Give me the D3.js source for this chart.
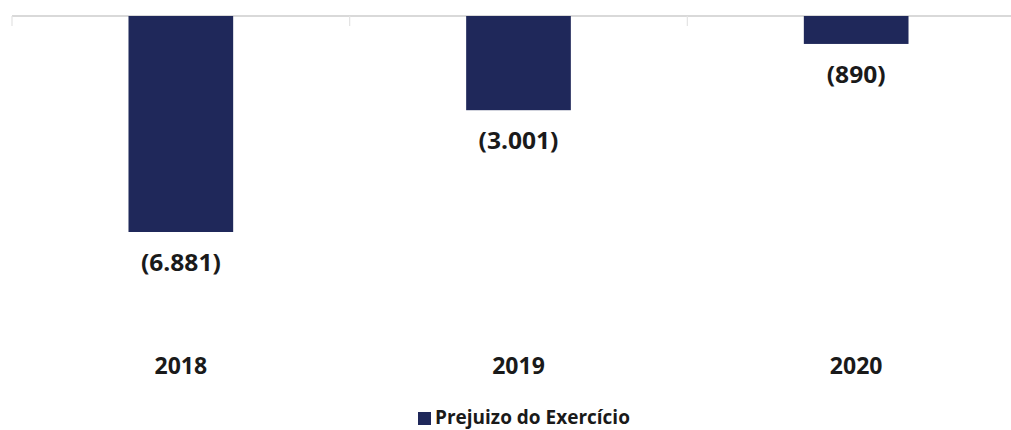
<!DOCTYPE html>
<html><head><meta charset="utf-8">
<script src="https://cdn.jsdelivr.net/npm/d3@7"></script>
<style>html,body{margin:0;padding:0;background:#fff;}svg{display:block;}</style>
</head><body>
<svg id="c" width="1011" height="430"></svg>
<script>
const categories = ["2018", "2019", "2020"];
const values = [-6881, -3001, -890];
const valueLabels = ["(6.881)", "(3.001)", "(890)"];
const seriesName = "Prejuizo do Exercício";

const svg = d3.select("#c");
const color = "#1f285a";
const font = "'Open Sans', sans-serif";

const x = d3.scaleBand().domain(categories).range([12, 1025]).paddingInner(0.69).paddingOuter(0.345);
const y = d3.scaleLinear().domain([-6881, 0]).range([232, 16]);

// axis line at zero
svg.append("line").attr("x1", 12).attr("x2", 1011).attr("y1", y(0)).attr("y2", y(0))
  .attr("stroke", "#d9d9d9").attr("stroke-width", 2);
const step = x.step();
const boundaries = [0,1,2,3].map(i => 12 + i*step);
svg.selectAll(".tick").data(boundaries).enter().append("line")
  .attr("x1", d=>d).attr("x2", d=>d).attr("y1", y(0)).attr("y2", y(0)+10)
  .attr("stroke", "#e3e3e3").attr("stroke-width", 1.2);

svg.selectAll(".bar").data(values).enter().append("rect")
  .attr("x", (d,i)=>x(categories[i]))
  .attr("width", x.bandwidth())
  .attr("y", y(0))
  .attr("height", d=>y(d)-y(0))
  .attr("fill", color);

svg.selectAll(".vl").data(values).enter().append("text")
  .attr("transform", (d,i)=>`translate(${x(categories[i])+x.bandwidth()/2},${y(d)+39}) scale(1.07,1)`)
  .attr("text-anchor", "middle")
  .attr("font-family", font).attr("font-weight", 700).attr("font-size", 23)
  .attr("fill", "#1a1a1a")
  .text((d,i)=>valueLabels[i]);

svg.selectAll(".cat").data(categories).enter().append("text")
  .attr("x", d=>x(d)+x.bandwidth()/2)
  .attr("y", 374)
  .attr("text-anchor", "middle")
  .attr("font-family", font).attr("font-weight", 700).attr("font-size", 23)
  .attr("fill", "#1a1a1a")
  .text(d=>d);

const lg = svg.append("g");
lg.append("rect").attr("x", 418).attr("y", 412).attr("width", 13).attr("height", 13).attr("fill", color);
lg.append("text").attr("x", 435).attr("y", 424)
  .attr("font-family", font).attr("font-weight", 700).attr("font-size", 19)
  .attr("fill", "#1a1a1a").text(seriesName);
</script>
</body></html>
